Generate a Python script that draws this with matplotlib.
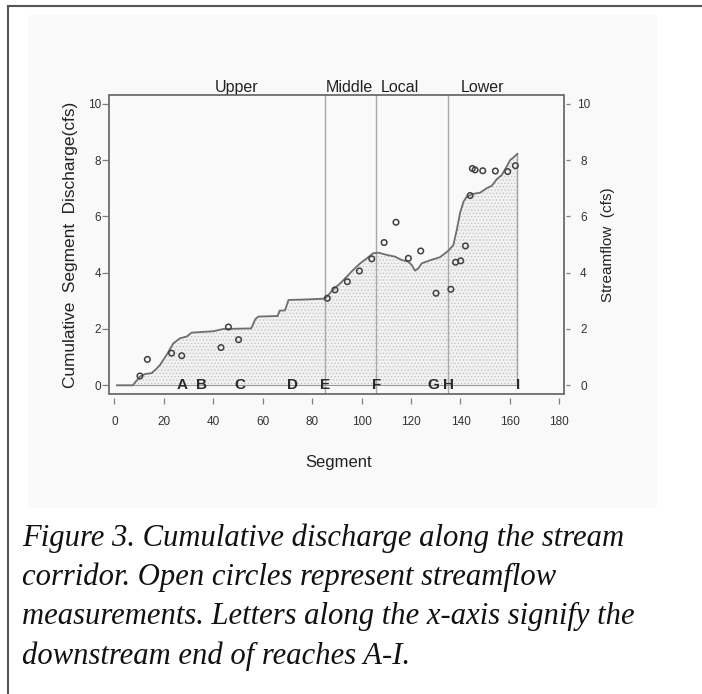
import matplotlib
matplotlib.use("Agg")
import matplotlib.pyplot as plt
from matplotlib.patches import Rectangle
from matplotlib.lines import Line2D
import numpy as np

# ---- data ----
curve_x = [1.0, 7.4, 10.3, 12.3, 15.0, 16.5, 18.4, 21.1, 23.8, 26.5, 29.2, 31.2, 40.0, 44.0,
           55.3, 57.0, 58.2, 66.0, 66.8, 69.0, 70.4, 78.0, 85.2, 85.9, 88.6, 91.3, 94.0,
           96.6, 99.4, 102.1, 104.7, 106.8, 110.2, 113.5, 116.2, 118.9, 120.3, 121.6,
           123.0, 124.3, 127.7, 131.7, 135.1, 137.1, 138.5, 139.8, 141.2, 142.5, 145.2,
           147.9, 150.6, 152.6, 154.7, 156.7, 158.7, 160.1, 161.4, 163.0]
curve_y = [0.0, 0.0, 0.31, 0.40, 0.43, 0.55, 0.72, 1.08, 1.49, 1.67, 1.73, 1.87, 1.92, 2.00,
           2.02, 2.35, 2.44, 2.46, 2.65, 2.66, 3.03, 3.05, 3.08, 3.15, 3.41, 3.62, 3.86,
           4.10, 4.33, 4.51, 4.69, 4.71, 4.63, 4.57, 4.45, 4.39, 4.27, 4.07,
           4.16, 4.33, 4.44, 4.55, 4.78, 4.98, 5.52, 6.11, 6.52, 6.70, 6.80,
           6.84, 7.00, 7.08, 7.32, 7.47, 7.77, 8.00, 8.09, 8.22]

meas_x = [10.3, 13.3, 23.1, 27.2, 43.1, 46.1, 50.2, 86.1, 89.2, 94.2, 99.1, 104.1, 109.1,
          113.9, 118.9, 123.9, 130.1, 136.1, 138.0, 140.1, 142.0, 143.9, 144.8, 145.9,
          149.0, 154.1, 159.1, 162.2]
meas_y = [0.33, 0.92, 1.14, 1.05, 1.34, 2.07, 1.62, 3.09, 3.39, 3.68, 4.06, 4.49, 5.07,
          5.79, 4.51, 4.77, 3.27, 3.41, 4.37, 4.42, 4.95, 6.74, 7.70, 7.65,
          7.62, 7.61, 7.59, 7.80]

boundaries = [85, 106, 135]
region_names = ["Upper", "Middle", "Local", "Lower"]
region_pos = [49.2, 95.0, 115.3, 149.0]
reach_letters = ["A", "B", "C", "D", "E", "F", "G", "H", "I"]
reach_pos = [27.2, 35.3, 50.9, 72.1, 85.3, 106.1, 129.0, 135.2, 163.2]
xticks = [0, 20, 40, 60, 80, 100, 120, 140, 160, 180]
yticks = [0, 2, 4, 6, 8, 10]

caption_lines = ["Figure 3. Cumulative discharge along the stream",
                 "corridor. Open circles represent streamflow",
                 "measurements. Letters along the x-axis signify the",
                 "downstream end of reaches A-I."]

plt.rcParams['font.family'] = ['Liberation Sans', 'DejaVu Sans']
plt.rcParams['hatch.linewidth'] = 0.6

W, H = 702, 694
fig = plt.figure(figsize=(W / 100, H / 100), dpi=100)

def fx(px):
    return px / W

def fy(py):
    return 1 - py / H

# scanned light-gray background region
bg = Rectangle((fx(28), fy(508)), fx(657) - fx(28), fy(15) - fy(508),
               transform=fig.transFigure, facecolor='#f9f9f9', edgecolor='none')
bg.set_zorder(-10)
fig.patches.append(bg)
# page frame
fig.lines.append(Line2D([fx(8), fx(8)], [fy(5.5), 0], transform=fig.transFigure,
                        color='#555555', lw=1.5, zorder=-5))
fig.lines.append(Line2D([fx(8), 1], [fy(5.5), fy(5.5)], transform=fig.transFigure,
                        color='#555555', lw=1.5, zorder=-5))

ax = fig.add_axes([fx(109.3), fy(394.3), fx(564.3) - fx(109.3), fy(95) - fy(394.3)])
ax.patch.set_alpha(0)
ax.set_xlim(-2.1, 182.0)
ax.set_ylim(-0.32, 10.31)

for s in ax.spines.values():
    s.set_visible(False)
ax.spines['bottom'].set_position(('outward', 2.9))
ax.spines['left'].set_position(('outward', 0.7))

ax.add_patch(Rectangle((0, 0), 1, 1, transform=ax.transAxes, fill=False,
                       edgecolor='#606060', lw=1.2, clip_on=False, zorder=5))

cx = np.array(curve_x)
cy = np.array(curve_y)
ax.fill_between(cx, 0, cy, facecolor='#f2f2f2', edgecolor='#c4c4c4', hatch='.....',
                linewidth=0, zorder=1)
ax.plot(cx, cy, color='#6e6e6e', lw=1.3, zorder=3)
ax.plot([cx[0], cx[-1]], [0, 0], color='#9a9a9a', lw=0.8, zorder=2)
ax.plot([cx[-1], cx[-1]], [0, cy[-1]], color='#a0a0a0', lw=1.0, zorder=2)

for b in boundaries:
    ax.axvline(b, color='#a8a8a8', lw=1.0, zorder=2)

ax.scatter(meas_x, meas_y, s=16, facecolors='none', edgecolors='#404040',
           linewidths=1.1, zorder=4)

for lab, p in zip(reach_letters, reach_pos):
    ax.text(p, 0, lab, ha='center', va='center', fontsize=11, fontweight='bold',
            color='#2a2a2a', zorder=6)

for name, p in zip(region_names, region_pos):
    ax.text(p, 1.0, name, transform=ax.get_xaxis_transform(), ha='center',
            va='bottom', fontsize=11.5, color='#222222')

ax.set_xticks(xticks)
ax.set_yticks(yticks)
ax.tick_params(axis='x', length=4.3, width=0.9, color='#808080', pad=8.5,
               labelsize=8.5, labelcolor='#333333')
ax.tick_params(axis='y', length=4.0, width=0.9, color='#808080', pad=1.2,
               labelsize=8.5, labelcolor='#333333')

ax2 = ax.twinx()
ax2.set_ylim(ax.get_ylim())
for s in ax2.spines.values():
    s.set_visible(False)
ax2.spines['right'].set_position(('outward', 1.5))
ax2.set_yticks(yticks)
ax2.tick_params(axis='y', length=2.8, width=0.9, color='#808080', pad=9.5,
                labelsize=8.5, labelcolor='#333333')
for t in ax2.get_yticklabels():
    t.set_horizontalalignment('center')

fig.text(fx(339), fy(463), "Segment", ha='center', va='center', fontsize=12,
         color='#222222')
fig.text(fx(71), fy(245), "Cumulative  Segment  Discharge(cfs)", ha='center',
         va='center', rotation=90, fontsize=12.4, color='#222222')
fig.text(fx(608), fy(245), "Streamflow  (cfs)", ha='center', va='center',
         rotation=90, fontsize=11, color='#222222')

for i, line in enumerate(caption_lines):
    fig.text(fx(22), fy(538 + 39.3 * i), line, ha='left', va='center',
             fontsize=22.1, fontstyle='italic', family='Liberation Serif',
             color='#111111')

fig.savefig("out.png", dpi=100)
